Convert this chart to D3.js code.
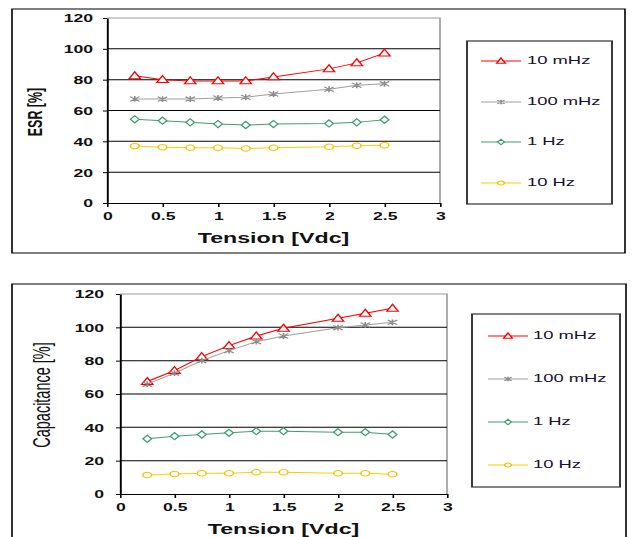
<!DOCTYPE html>
<html><head><meta charset="utf-8">
<script src="https://cdn.jsdelivr.net/npm/d3@7"></script>
<style>body{margin:0;background:#fff}svg{display:block}</style>
</head><body>
<script>
// ---------- data ----------
const tension = [0.25, 0.5, 0.75, 1, 1.25, 1.5, 2, 2.25, 2.5];
const seriesNames = ["10 mHz", "100 mHz", "1 Hz", "10 Hz"];
const xTicks = [0, 0.5, 1, 1.5, 2, 2.5, 3];
const yTicks = [0, 20, 40, 60, 80, 100, 120];

const esr10mHz  = [82.5, 80, 79.2, 79.2, 79.2, 81.8, 87, 90.9, 97.2];
const esr100mHz = [67.5, 67.4, 67.4, 68.1, 68.6, 70.7, 73.8, 76.4, 77.3];
const esr1Hz    = [54.3, 53.4, 52.3, 51.2, 50.6, 51.2, 51.6, 52.3, 54];
const esr10Hz   = [36.9, 36.2, 35.8, 35.8, 35.4, 35.8, 36.5, 37.1, 37.5];

const cap10mHz  = [67.5, 74, 82.4, 89, 94.8, 99.4, 105.4, 108.4, 111.4];
const cap100mHz = [65.9, 72.5, 80, 86, 91.4, 94.8, 99.8, 101.4, 103];
const cap1Hz    = [33.1, 34.7, 35.7, 36.7, 37.7, 37.7, 37.1, 37.1, 35.7];
const cap10Hz   = [11.4, 12, 12.4, 12.4, 13, 13, 12.4, 12.4, 11.8];

// ---------- styling ----------
const colors = ["#ff0000", "#a0a0a0", "#3f9f6f", "#ffcc00"];
const markerStroke = ["#ff0000", "#8c8c8c", "#3f9f6f", "#f5c400"];
const markers = ["triangle", "star", "diamond", "circle"];
const sx = 1.6; // horizontal stretch of the original picture
const u = px => px / sx;

const W = 632, H = 537;
const svg = d3.select("body").append("svg").attr("width", W).attr("height", H);
const root = svg.append("g").attr("transform", `scale(${sx},1)`);

function markerPath(type, s) {
  if (type === "triangle") {
    return `M0,${-s*0.62}L${s*0.55},${s*0.45}L${-s*0.55},${s*0.45}Z`;
  }
  if (type === "diamond") {
    return `M0,${-s*0.55}L${s*0.42},0L0,${s*0.55}L${-s*0.42},0Z`;
  }
  if (type === "circle") {
    const r = s * 0.42;
    return `M${r},0A${r},${r} 0 1,1 ${-r},0A${r},${r} 0 1,1 ${r},0Z`;
  }
  // star: X plus vertical bar
  const a = s * 0.45;
  return `M${-a},${-a*0.8}L${a},${a*0.8}M${-a},${a*0.8}L${a},${-a*0.8}M0,${-a}L0,${a}`;
}

function drawPanel(cfg) {
  const g = root.append("g");
  // outer frame
  g.append("rect")
    .attr("x", u(cfg.box[0])).attr("y", cfg.box[1])
    .attr("width", u(cfg.box[2] - cfg.box[0])).attr("height", cfg.box[3] - cfg.box[1])
    .attr("fill", "none").attr("stroke", "#000").attr("stroke-width", 1);

  const [px0, py0, px1, py1] = cfg.plot;
  const x = d3.scaleLinear().domain([0, 3]).range([u(px0), u(px1)]);
  const y = d3.scaleLinear().domain([0, 120]).range([py1, py0]);

  // plot area border (gray, top & right)
  g.append("path")
    .attr("d", `M${x(0)},${y(120)}H${x(3)}V${y(0)}`)
    .attr("fill", "none").attr("stroke", "#9a9a9a").attr("stroke-width", 1);

  // gridlines
  g.append("g").selectAll("line").data(yTicks.filter(t => t > 0 && t < 120)).join("line")
    .attr("x1", x(0)).attr("x2", x(3))
    .attr("y1", d => y(d)).attr("y2", d => y(d))
    .attr("stroke", "#000").attr("stroke-width", 1);

  // axes
  const yAxis = g.append("g").attr("transform", `translate(${x(0)},0)`)
    .call(d3.axisLeft(y).tickValues(yTicks).tickSize(u(4)).tickSizeOuter(0).tickPadding(u(cfg.yPad)));
  const xAxis = g.append("g").attr("transform", `translate(0,${y(0)})`)
    .call(d3.axisBottom(x).tickValues(xTicks).tickSize(4).tickSizeOuter(0).tickPadding(5)
      .tickFormat(d3.format("")));
  [yAxis, xAxis].forEach(a => {
    a.select(".domain").attr("stroke", "#000").attr("stroke-width", 1.2);
    a.selectAll(".tick line").attr("stroke", "#000");
    a.selectAll("text").attr("font-family", "Liberation Sans, Arial, sans-serif")
      .attr("font-size", 11).attr("font-weight", "bold").attr("fill", "#111");
  });
  yAxis.selectAll("text").attr("dy", "0.36em");

  // axis titles
  g.append("text")
    .attr("x", (x(0) + x(3)) / 2).attr("y", y(0) + 36)
    .attr("text-anchor", "middle").attr("dominant-baseline", "middle")
    .attr("font-family", "Liberation Sans, Arial, sans-serif")
    .attr("font-size", 14.5).attr("font-weight", "bold").attr("fill", "#111")
    .text("Tension [Vdc]");
  g.append("text")
    .attr("transform", `translate(${u(cfg.yTitleX)},${cfg.yTitleY}) rotate(-90)`)
    .attr("text-anchor", "middle").attr("dominant-baseline", "middle")
    .attr("font-family", "Liberation Sans, Arial, sans-serif")
    .attr("font-size", cfg.yTitleSize).attr("font-weight", cfg.yTitleWeight).attr("fill", "#111")
    .text(cfg.yTitle);

  // series
  const line = d3.line().x((d, i) => x(tension[i])).y(d => y(d));
  cfg.series.forEach((vals, k) => {
    g.append("path").datum(vals).attr("d", line)
      .attr("fill", "none").attr("stroke", colors[k]).attr("stroke-width", 1);
    g.append("g").selectAll("path").data(vals).join("path")
      .attr("transform", (d, i) => `translate(${x(tension[i])},${y(d)})`)
      .attr("d", markerPath(markers[k], 6.5))
      .attr("fill", markers[k] === "star" ? "none" : "#fff")
      .attr("stroke", markerStroke[k]).attr("stroke-width", 1);
  });

  // legend
  const L = cfg.legend;
  g.append("rect")
    .attr("x", u(L.box[0])).attr("y", L.box[1])
    .attr("width", u(L.box[2] - L.box[0])).attr("height", L.box[3] - L.box[1])
    .attr("fill", "#fff").attr("stroke", "#333").attr("stroke-width", 1.2);
  seriesNames.forEach((name, k) => {
    const ry = L.rows[k];
    g.append("line").attr("x1", u(L.lineX[0])).attr("x2", u(L.lineX[1]))
      .attr("y1", ry).attr("y2", ry).attr("stroke", colors[k]).attr("stroke-width", 1);
    g.append("path")
      .attr("transform", `translate(${u((L.lineX[0] + L.lineX[1]) / 2)},${ry})`)
      .attr("d", markerPath(markers[k], 5))
      .attr("fill", markers[k] === "star" ? "none" : "#fff")
      .attr("stroke", markerStroke[k]).attr("stroke-width", 1);
    g.append("text").attr("x", u(L.textX)).attr("y", ry)
      .attr("dominant-baseline", "middle")
      .attr("font-family", "Liberation Sans, Arial, sans-serif")
      .attr("font-size", 11.5).attr("fill", "#1a1030")
      .text(name);
  });
}

drawPanel({
  box: [12, 9, 625, 253],
  plot: [107, 18, 440, 203],
  yPad: 10,
  yTitle: "ESR [%]", yTitleX: 37, yTitleY: 112, yTitleSize: 12.5, yTitleWeight: "bold",
  series: [esr10mHz, esr100mHz, esr1Hz, esr10Hz],
  legend: { box: [467, 41, 612, 204], rows: [61, 102, 142, 183], lineX: [481, 521], textX: 527 }
});

drawPanel({
  box: [12, 284, 626, 560],
  plot: [120, 294, 447, 494],
  yPad: 12,
  yTitle: "Capacitance [%]", yTitleX: 44, yTitleY: 395, yTitleSize: 14.5, yTitleWeight: "normal",
  series: [cap10mHz, cap100mHz, cap1Hz, cap10Hz],
  legend: { box: [472, 314, 620, 487], rows: [336, 379, 422, 465], lineX: [488, 528], textX: 533 }
});
</script>
</body></html>
